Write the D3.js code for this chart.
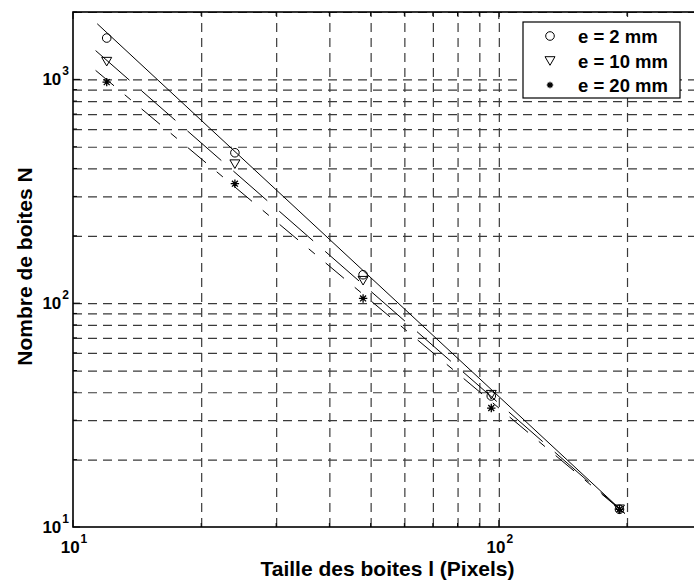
<!DOCTYPE html>
<html>
<head>
<meta charset="utf-8">
<script src="https://cdn.jsdelivr.net/npm/d3@7"></script>
<style>
  body { margin: 0; background: #fff; }
  text { font-family: "Liberation Sans", Arial, sans-serif; font-weight: bold; fill: #000; }
</style>
</head>
<body>
<script>
// box sizes (pixels) and box counts for each thickness
const sizes = [12, 24, 48, 96, 192]
const n2 = [1530, 470, 134, 38.5, 12]
const n10 = [1200, 418, 126, 39, 12]
const n20 = [972, 342, 105, 34, 12]

// fitted lines, read as end points off the picture
const fit2 = [[11.4, 1772], [197.6, 11.5]]
const fit10 = [[11.3, 1345], [197.6, 11.5]]
const fit20 = [[11.3, 1097], [197.6, 11.5]]

const legendLabels = ['e = 2 mm', 'e = 10 mm', 'e = 20 mm']
const xMajor = [10, 100]
const yMajor = [10, 100, 1000]
const xMinor = [20, 30, 40, 50, 60, 70, 80, 90, 200, 300]
const yMinor = [20, 30, 40, 50, 60, 70, 80, 90, 200, 300, 400, 500, 600, 700, 800, 900, 2000]

const W = 694, H = 580
const mLeft = 73, mRight = 702, mTop = 12, mBottom = 527

const svg = d3.select('body').append('svg')
  .attr('width', W).attr('height', H)
  .attr('xmlns', 'http://www.w3.org/2000/svg')

svg.append('rect').attr('width', W).attr('height', H).attr('fill', '#fff')

const x = d3.scaleLog().domain([10, 300]).range([mLeft, mRight])
const y = d3.scaleLog().domain([10, 2000]).range([mBottom, mTop])

// grid
const gx = svg.append('g')
  .attr('transform', `translate(0, ${mBottom})`)
  .call(d3.axisBottom(x).tickValues(xMinor.concat([100])).tickSize(-(mBottom - mTop)).tickFormat(''))
gx.select('.domain').remove()
gx.selectAll('line').attr('stroke', '#3a3a3a').attr('stroke-width', 1.2).attr('stroke-dasharray', '9,6')

const gy = svg.append('g')
  .attr('transform', `translate(${mLeft}, 0)`)
  .call(d3.axisLeft(y).tickValues(yMinor.concat([100, 1000])).tickSize(-(mRight - mLeft)).tickFormat(''))
gy.select('.domain').remove()
gy.selectAll('line').attr('stroke', '#3a3a3a').attr('stroke-width', 1.2).attr('stroke-dasharray', '9,6')

// fit lines
const line = d3.line().x(d => x(d[0])).y(d => y(d[1]))
const fits = [
  { pts: fit2, dash: null },
  { pts: fit10, dash: '45,16' },
  { pts: fit20, dash: '24,14,8,14' }
]
svg.selectAll('path.fit')
  .data(fits)
  .enter()
  .append('path')
  .attr('class', 'fit')
  .attr('d', d => line(d.pts))
  .attr('fill', 'none')
  .attr('stroke', '#000')
  .attr('stroke-width', 1)
  .attr('stroke-dasharray', d => d.dash)

// markers
const circlePath = d3.symbol().type(d3.symbolCircle).size(Math.PI * 4.3 * 4.3)()
const triPath = 'M-5,-4.3L5,-4.3L0,4.3Z'
function starPath(r) {
  let p = ''
  for (let i = 0; i < 4; i++) {
    const a = i * Math.PI / 4
    const dx = r * Math.cos(a), dy = r * Math.sin(a)
    p += `M${-dx},${-dy}L${dx},${dy}`
  }
  return p
}

function drawMarkers(vals, path, sw) {
  svg.append('g').selectAll('path')
    .data(sizes.map((s, i) => [s, vals[i]]))
    .enter()
    .append('path')
    .attr('d', path)
    .attr('transform', d => `translate(${x(d[0])},${y(d[1])})`)
    .attr('fill', 'none')
    .attr('stroke', '#000')
    .attr('stroke-width', sw)
}
drawMarkers(n2, circlePath, 1)
drawMarkers(n10, triPath, 1)
drawMarkers(n20, starPath(4.2), 1.3)

// frame
svg.append('rect')
  .attr('x', mLeft).attr('y', mTop)
  .attr('width', mRight - mLeft).attr('height', mBottom - mTop)
  .attr('fill', 'none').attr('stroke', '#000').attr('stroke-width', 1.6)

// ticks (inside, all sides)
const tickG = svg.append('g').attr('stroke', '#000').attr('stroke-width', 1)
function xticks(vals, len) {
  vals.forEach(v => {
    tickG.append('line').attr('x1', x(v)).attr('x2', x(v)).attr('y1', mBottom).attr('y2', mBottom - len)
    tickG.append('line').attr('x1', x(v)).attr('x2', x(v)).attr('y1', mTop).attr('y2', mTop + len)
  })
}
function yticks(vals, len) {
  vals.forEach(v => {
    tickG.append('line').attr('y1', y(v)).attr('y2', y(v)).attr('x1', mLeft).attr('x2', mLeft + len)
    tickG.append('line').attr('y1', y(v)).attr('y2', y(v)).attr('x1', mRight).attr('x2', mRight - len)
  })
}
xticks(xMajor, 7); xticks(xMinor, 4)
yticks(yMajor, 7); yticks(yMinor, 4)

// tick labels with exponents
xMajor.forEach(v => {
  const t = svg.append('text')
    .attr('x', x(v) + 1).attr('y', 553)
    .attr('text-anchor', 'middle')
    .style('font-size', '17px')
  t.append('tspan').text('10')
  t.append('tspan').attr('dy', -10).attr('dx', 1).style('font-size', '12px').text(Math.round(Math.log10(v)))
})
yMajor.forEach(v => {
  const t = svg.append('text')
    .attr('x', 69).attr('y', y(v) + 6)
    .attr('text-anchor', 'end')
    .style('font-size', '17px')
  t.append('tspan').text('10')
  t.append('tspan').attr('dy', -10).attr('dx', 1).style('font-size', '12px').text(Math.round(Math.log10(v)))
})

// axis titles
svg.append('text')
  .attr('x', (mLeft + mRight) / 2).attr('y', 576)
  .attr('text-anchor', 'middle')
  .style('font-size', '21px')
  .text('Taille des boites l (Pixels)')

svg.append('text')
  .attr('transform', `translate(32, ${(mTop + mBottom) / 2 - 3}) rotate(-90)`)
  .attr('text-anchor', 'middle')
  .style('font-size', '21px')
  .text('Nombre de boites N')

// legend
const lg = svg.append('g')
lg.append('rect')
  .attr('x', 523).attr('y', 22).attr('width', 157).attr('height', 76)
  .attr('fill', '#fff').attr('stroke', '#000').attr('stroke-width', 1.2)
const legendMarks = [circlePath, triPath, starPath(3.2)]
const legendY = [36, 61, 85]
legendLabels.forEach((lab, i) => {
  lg.append('path')
    .attr('d', legendMarks[i])
    .attr('transform', `translate(550, ${legendY[i]})`)
    .attr('fill', 'none').attr('stroke', '#000').attr('stroke-width', i === 2 ? 1.3 : 1)
  lg.append('text')
    .attr('x', 578).attr('y', legendY[i] + 7)
    .style('font-size', '18.5px')
    .text(lab)
})
</script>
</body>
</html>
